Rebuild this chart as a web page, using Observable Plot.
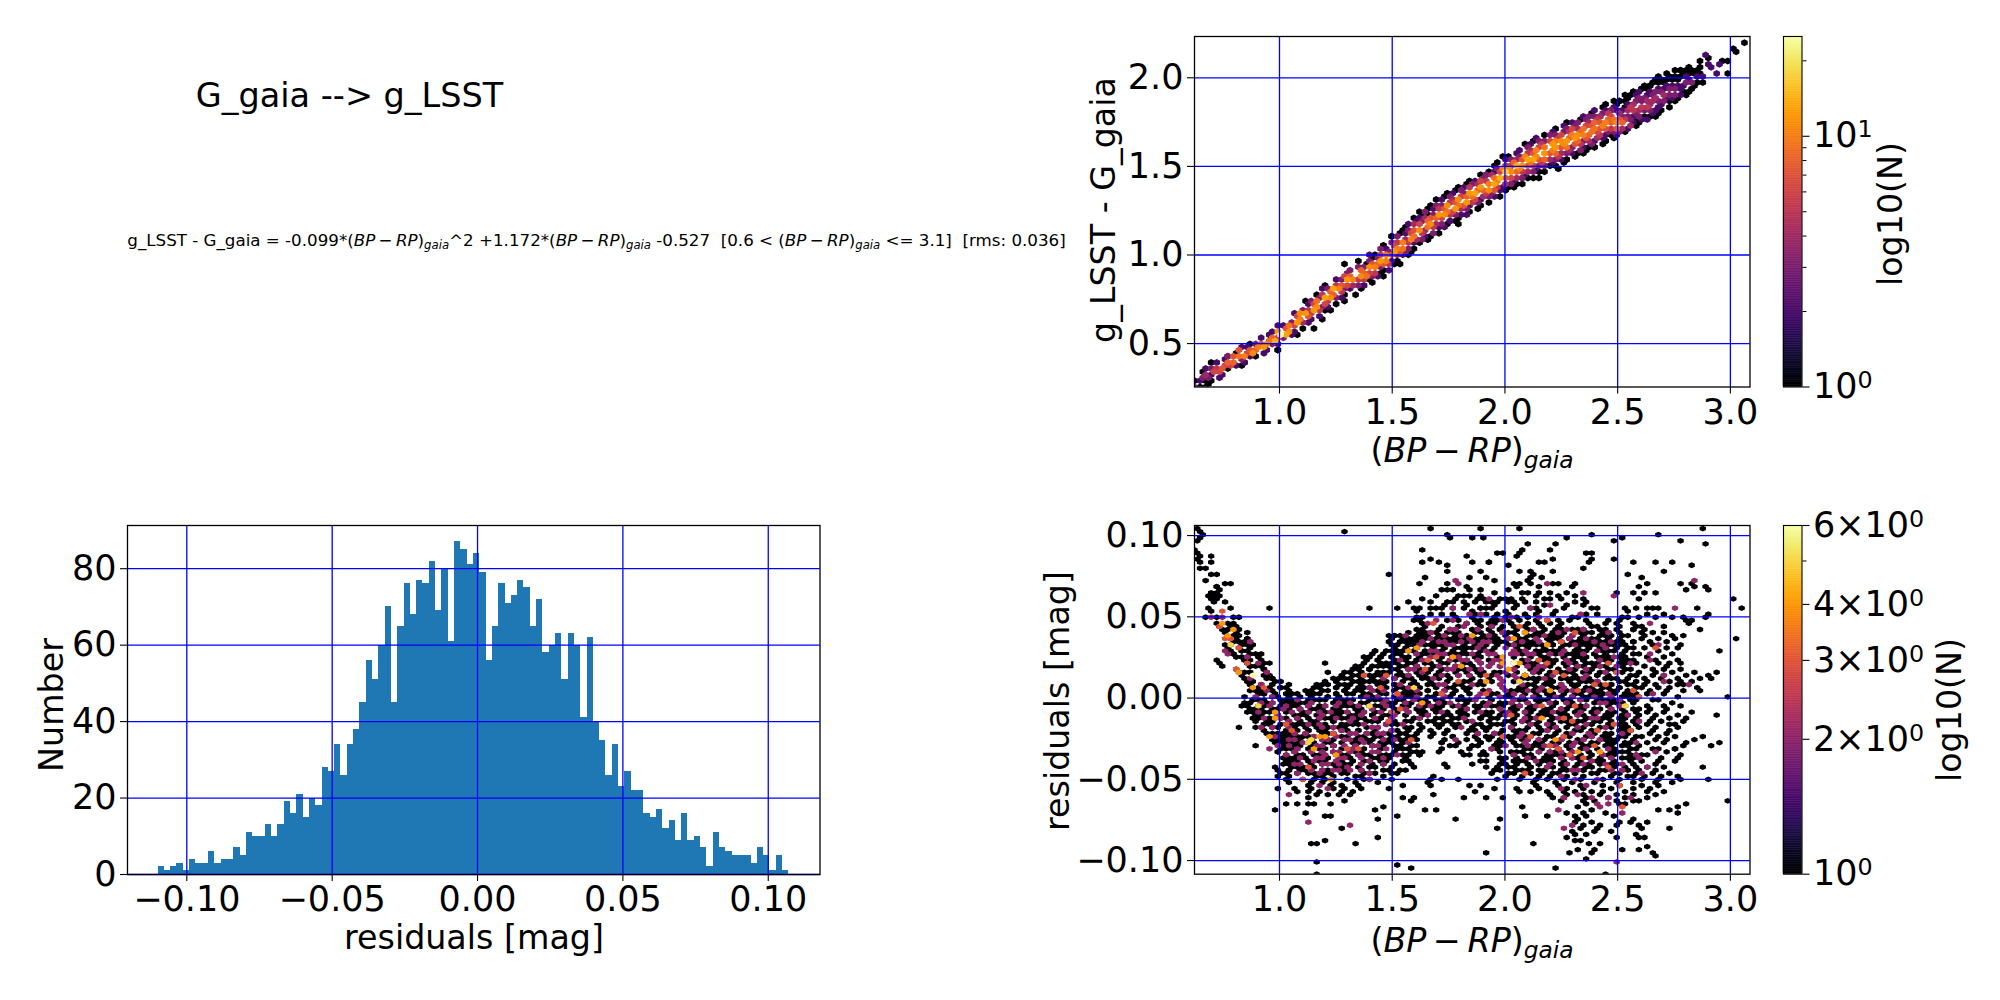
<!DOCTYPE html>
<html><head><meta charset="utf-8">
<script src="https://cdn.jsdelivr.net/npm/d3@7"></script>
<script src="https://cdn.jsdelivr.net/npm/@observablehq/plot@0.6"></script>
<style>
body{margin:0;background:#fff;font-family:"DejaVu Sans",sans-serif;color:#000}
#page{position:relative;width:2000px;height:1000px;overflow:hidden}
.box{position:absolute}
.t{position:absolute;white-space:nowrap;transform:translate(-50%,-50%)}
.m i{font-style:italic}
.m sub{font-size:70%;vertical-align:baseline;position:relative;top:.25em}
</style></head><body><div id="page"></div>
<script>
const titleText = "G_gaia --> g_LSST";
const xTicks = [1.0,1.5,2.0,2.5,3.0];
const topYTicks = [0.5,1.0,1.5,2.0];
const residTicks = [-0.10,-0.05,0,0.05,0.10];
const histYTicks = [0,20,40,60,80];

// histogram counts, 100 bins
const histStart = -0.1099, histBin = 0.00217;
const histCounts = [2,1,2,3,1,4,3,3,6,3,4,4,7,5,11,10,10,13,10,13,19,16,21,15,20,18,28,27,34,26,34,38,45,56,51,60,70,45,65,76,68,77,76,82,69,80,61,87,85,81,84,79,56,65,76,71,73,77,75,65,72,58,60,63,51,63,60,41,62,40,35,26,34,23,27,22,22,16,15,17,12,14,9,16,9,10,7,2,11,7,6,5,5,5,3,7,5,1,5,1];

// upper right: [x, lowest y, counts going up the column]
const topColumns = [
[.63,.26,3,1],[.65,.26,1,2,3,1],[.675,.28,1,3,4,2],[.70,.29,1,2,6,3,1],[.725,.31,2,6,5,2],[.75,.33,2,7,6,2],[.775,.35,1,6,8,3],[.80,.37,2,8,7,1],[.825,.38,1,3,9,7,2],[.85,.40,2,10,6,2],[.875,.42,2,11,7,1],[.90,.43,1,8,10,3],[.925,.45,2,12,7,2],[.95,.47,2,10,9,2],[.975,.49,3,14,8,2],[1.0,.50,2,6,24,12,2],[1.025,.53,3,13,7,2],[1.05,.55,2,11,9,3],[1.075,.57,2,6,12,6,2],[1.10,.59,1,4,10,11,3],[1.125,.62,2,7,12,5,2],[1.15,.64,2,5,12,6,3],[1.175,.66,2,5,11,9,3],[1.20,.68,1,3,6,13,5,2],[1.225,.71,2,5,11,8,3],[1.25,.73,1,3,8,13,5,2],[1.275,.76,2,5,10,7,3],[1.30,.78,1,3,6,12,6,3],[1.325,.81,2,4,10,8,3],
[1.35,.81,1,3,5,11,8,3,1],[1.375,.83,2,5,9,8,3,1],[1.40,.85,1,3,6,11,7,3,2],[1.425,.88,2,5,10,8,3,1],[1.45,.90,1,3,7,12,5,3,1],[1.475,.92,2,5,10,9,3,2],[1.50,.95,1,2,7,12,6,3,1],[1.525,.97,1,3,7,10,5,3,1],[1.55,.995,2,3,9,10,4,2,1],[1.575,1.02,1,3,5,10,6,3,2],[1.60,1.04,1,2,4,9,7,4,2,1],[1.625,1.065,1,3,5,11,6,3,2,1],[1.65,1.085,1,2,4,9,8,4,3,1],[1.675,1.105,1,3,5,11,7,3,2,1],[1.70,1.13,1,2,4,8,12,5,3,1],[1.725,1.155,2,3,6,11,7,3,2,1],[1.75,1.175,1,2,5,9,11,5,3,1],[1.775,1.195,1,3,6,12,7,4,2,1],[1.80,1.21,1,2,4,9,11,6,3,1],[1.825,1.23,2,3,7,12,8,3,2,1],[1.85,1.25,1,2,5,9,12,5,3,1],[1.875,1.27,1,3,6,13,8,4,2],[1.90,1.285,1,2,4,8,12,6,3,1],[1.925,1.30,1,3,5,11,10,5,3,1],[1.95,1.325,2,3,7,13,9,4,2,1],[1.975,1.34,1,2,5,10,14,6,3,1],[2.0,1.36,1,2,4,7,17,10,4,2,1],[2.025,1.385,1,3,6,11,11,5,3,1],[2.05,1.395,1,2,4,8,14,8,4,2],[2.075,1.41,1,3,5,10,12,7,3,2],[2.10,1.43,1,2,4,7,13,10,5,3,1],[2.125,1.445,1,3,5,9,13,7,4,2,1],[2.15,1.46,1,2,3,7,11,10,6,3,2],[2.175,1.475,1,3,5,8,12,9,5,3,1],[2.20,1.495,1,2,4,7,10,12,6,3,2],[2.225,1.51,1,3,5,8,12,10,5,3,1],[2.25,1.525,1,2,4,7,11,11,6,3,2],[2.275,1.54,1,3,4,9,12,8,5,3,1],[2.30,1.555,1,2,3,7,12,10,6,3,2],[2.325,1.57,1,3,5,8,11,8,4,3,1],[2.35,1.585,1,2,3,7,10,9,6,3,2],[2.375,1.60,1,3,4,8,9,7,4,3,1],[2.40,1.615,1,2,4,6,9,8,5,3,2],[2.425,1.63,1,2,5,7,10,7,4,3,1],[2.45,1.645,1,2,3,7,10,8,5,2,1],[2.475,1.665,1,3,5,8,9,6,3,2],[2.50,1.67,2,3,7,11,7,4,2,1,1],[2.525,1.69,1,4,8,5,3,2,1,1],[2.55,1.71,2,4,3,3,4,5,2,1,1],[2.575,1.725,1,2,2,3,5,4,3,2,1],[2.60,1.74,1,2,3,4,5,3,3,2,1],[2.625,1.76,2,1,3,5,4,3,2,1,1],[2.65,1.775,1,2,3,4,4,3,2,1,1],[2.675,1.79,1,2,2,3,4,3,2,1,1],[2.70,1.82,1,2,3,4,3,2,1,1],[2.725,1.835,1,1,2,3,3,2,1,1],[2.75,1.86,1,2,3,3,2,1,1,1],[2.775,1.885,1,2,2,2,1,1,1],[2.80,1.90,1,1,2,3,2,1,1],[2.825,1.945,1,3,2,1,1],[2.85,1.95,1,1,2,1,1],[2.875,1.98,1,2,1,1]];
// upper right: stray cells as [x, y, count]
const topStrays = [[2.90,2.08,2],[2.885,2.13,2],[2.90,2.11,1],[2.945,2.08,2],[2.96,2.10,1],[2.985,2.10,1],[2.934,2.03,2],[2.984,2.03,1],[3.006,2.17,1],[3.02,2.15,1],[3.057,2.2,1],[2.91,2.06,2],[2.145,1.434,1],[2.233,1.488,1],[1.30,.945,1],[.955,.557,1],[.952,.523,1],[.99,.47,1],[1.0,.46,1],[1.527,.945,1],[1.454,.875,1],[1.454,.91,1],[1.115,.73,1],[1.177,.78,1],[1.2,.82,1],[.777,.424,1],[.855,.39,1],[1.46,1.05,1],[1.5,1.11,1],[1.565,1.165,1],[1.79,1.176,1],[1.75,1.19,1],[1.63,1.22,1],[.66,.26,1],[.69,.27,1],[2.07,1.43,1],[2.04,1.386,1],[2.02,1.40,1],[2.18,1.5,1],[2.27,1.54,1],[2.34,1.577,1],[2.39,1.61,1],[2.44,1.642,1],[2.48,1.685,1],[2.575,1.764,1],[2.67,1.80,1],[2.77,1.88,1],[2.81,1.923,1],[2.69,1.854,1],[1.963,1.483,1],[1.91,1.45,1],[1.88,1.42,1],[2.02,1.507,1],[2.27,1.71,1],[2.32,1.723,1],[2.41,1.783,1],[2.465,1.816,1],[2.48,1.87,1],[2.5,1.87,1],[2.53,1.906,1],[2.56,1.923,1],[2.6,1.944,1],[2.634,1.957,1],[2.675,2.013,1],[2.71,2.03,1],[2.774,2.05,1],[2.81,2.064,1],[2.855,2.097,1],[1.082,.56,1],[1.153,.595,1],[1.186,.642,1],[1.223,.693,1],[1.283,.737,1],[1.335,.775,1],[1.365,.822,1],[1.394,.856,1],[1.58,1.0,1],[1.61,1.068,1],[1.655,1.09,1],[1.707,1.153,1],[1.40,.98,1],[1.62,1.22,1],[1.647,1.23,1]];

// lower right: cells with count 1, rows of [y, x, x, ...]
const residOnes = [
[.104,1.67,1.90,2.06,2.87,.63],[.102,1.30,.64],[.100,1.74,2.38,2.68,.65],[.098,.65,1.75,1.85,1.90,2.27,2.52],[.096,.64,2.48,2.78],[.094,2.10,2.22,2.89],[.092,.63,1.64,2.08],[.090,1.97,2.00,2.07,2.20,2.37,2.39,.63],[.088,.69,1.83,2.06,.65],[.086,1.67,2.22,2.39,2.49,.63],[.084,1.86,1.93,2.16],[.083,.655,.705,1.63,1.70,1.92,2.17,2.37,2.56,2.68,2.74],[.081,1.75,2.01,2.82],[.079,.65,.68,1.74,2.34],[.077,.72,1.49,1.89,2.06,2.11,2.13,2.21,2.55,2.70],[.075,.70,1.65,1.85,1.92,2.12,2.16,2.61],[.073,.67,1.96,2.11],[.071,.75,.78,1.63,1.75,2.04,2.07,2.12,2.22,2.24,2.32,2.64,2.79,2.83],[.069,.73,2.06,2.30,2.60,2.85],[.0675,.72,.74,1.72,1.75,1.83,1.85,2.02,2.15,2.81,2.89,2.91],[.066,1.76,1.90,2.20],[.065,.70,.71,1.96,2.07,2.11,2.16,2.28,2.50,2.58,2.63,2.68],[.063,.68,.70,.73,1.70,1.80,1.83,1.85,1.88,2.14,2.24,2.30],[.061,.70,.73,1.64,1.91,1.97,2.00,2.03,2.17,2.24,2.35,2.59,3.01],[.060,1.67,1.78,1.88,2.08,2.20,2.31],[.059,.71,.77,1.56,1.74,1.76,1.81,1.86,1.92,1.94,1.97,2.01,2.04,2.10,2.13,2.37],[.057,1.74,1.84,1.95,2.06,2.18,2.28,2.36],[.056,.68,.78,.96,1.40,1.53,1.63,1.70,1.72,1.81,1.88,1.91,1.94,2.12,2.39,2.59,2.65,2.67,2.86,3.06],[.055,1.59,1.66,1.78,1.90,2.03,2.13,2.25,2.41,2.53,2.62],[.054,.70,1.62,1.85,2.00,2.16,2.22,2.55],[.052,1.66,1.73,1.76,1.87,1.92,1.97,2.02,2.10,2.15,2.21,2.37,2.42,2.64,2.70,2.89],[.050,.68,.73,.79,.81,1.60,1.63,1.77,1.85,1.95,2.0,2.05,2.11,2.30,2.32,2.52,2.55,2.60,2.67,2.75,2.80,2.88],[.048,1.60,1.63,1.74,1.79,1.86,1.90,1.93,1.97,2.02,2.07,2.13,2.18,2.23,2.28,2.37,2.45,2.50,2.81,2.83],[.046,.72,.76,.80,1.64,1.84,1.88,1.92,1.96,2.03,2.10,2.14,2.20,2.26,2.38,2.44,2.50,2.58,2.82],[.044,.73,.78,.81,1.65,1.72,1.80,1.90,1.93,2.00,2.05,2.08,2.17,2.23,2.38,2.41,2.52,2.57,2.60,2.70],[.042,.75,.83,1.60,1.70,1.76,1.85,1.89,1.94,1.99,2.06,2.12,2.18,2.23,2.30,2.35,2.42,2.50,2.58,2.63,2.86],[.040,.76,.80,.85,1.61,1.65,1.69,1.75,1.80,1.87,1.93,1.98,2.03,2.09,2.14,2.21,2.27,2.33,2.39,2.44,2.50,2.60,2.66,2.71],
[.038,.79,.83,1.48,1.51,1.54,1.63,1.66,1.70,1.74,1.78,1.84,1.90,1.96,2.00,2.06,2.11,2.16,2.20,2.26,2.31,2.36,2.42,2.48,2.55,2.63,2.74,2.78],[.036,.78,.86,1.56,1.60,1.66,1.72,1.77,1.83,1.88,1.93,2.03,2.07,2.13,2.22,2.28,2.34,2.40,2.46,2.60,2.68,2.76,3.03],[.034,.81,.87,1.48,1.54,1.63,1.68,1.72,1.79,1.84,1.98,2.04,2.10,2.19,2.24,2.30,2.37,2.44,2.52,2.58,2.65,2.72],[.032,.76,.84,.88,1.53,1.58,1.65,1.70,1.76,1.87,1.92,2.02,2.08,2.14,2.21,2.27,2.34,2.39,2.46,2.50,2.57,2.66,2.77],[.030,.77,.83,.86,1.42,1.50,1.55,1.60,1.67,1.73,1.80,1.86,1.96,2.16,2.24,2.31,2.37,2.42,2.55,2.62,2.72,2.76,2.95],[.028,.79,.90,1.42,1.51,1.57,1.63,1.69,1.78,1.83,1.94,2.12,2.19,2.28,2.34,2.40,2.46,2.52,2.60,2.68,2.74],[.026,.81,.85,.92,1.38,1.45,1.49,1.55,1.62,1.72,1.77,1.89,2.10,2.17,2.26,2.31,2.37,2.43,2.50,2.64,2.70],[.024,.72,.84,.92,1.39,1.43,1.52,1.60,1.66,1.76,1.84,1.92,2.07,2.14,2.21,2.29,2.35,2.42,2.48,2.55,2.66,2.76],[.022,.74,.86,.96,1.20,1.47,1.53,1.58,1.68,1.74,1.82,1.95,2.12,2.25,2.32,2.38,2.46,2.53,2.59,2.68,2.74,2.79],[.020,.75,.87,.91,1.34,1.41,1.47,1.56,1.62,1.70,1.80,1.86,1.98,2.10,2.18,2.27,2.33,2.40,2.45,2.52,2.62,2.72],[.018,.81,.92,1.35,1.40,1.50,1.58,1.66,1.75,1.82,1.90,2.04,2.15,2.23,2.30,2.37,2.48,2.56,2.65,2.70,2.78],[.016,.83,.88,1.22,1.31,1.37,1.44,1.53,1.60,1.70,1.78,1.88,1.96,2.13,2.20,2.28,2.35,2.42,2.50,2.60,2.68,2.75,2.83,2.93],[.014,.84,.92,.96,1.28,1.34,1.38,1.47,1.55,1.64,1.72,1.84,1.94,2.10,2.19,2.25,2.32,2.40,2.47,2.56,2.66,2.71,2.80,2.90],[.012,.84,.98,1.24,1.30,1.36,1.42,1.50,1.59,1.67,1.76,1.86,1.92,2.08,2.16,2.24,2.31,2.38,2.44,2.54,2.63,2.70,2.77,2.86,2.92],[.010,.85,.99,1.01,1.20,1.33,1.38,1.46,1.54,1.60,1.68,1.74,1.82,1.90,2.14,2.22,2.28,2.34,2.42,2.50,2.58,2.64,2.72,2.78,2.84],[.008,.86,.92,1.03,1.16,1.22,1.29,1.36,1.43,1.50,1.58,1.66,1.72,1.80,1.88,2.10,2.18,2.26,2.33,2.40,2.47,2.55,2.62,2.68,2.76,2.80],[.006,.88,.96,1.01,1.04,1.18,1.26,1.31,1.38,1.45,1.53,1.62,1.69,1.78,1.85,2.07,2.14,2.21,2.30,2.37,2.45,2.52,2.60,2.67,2.74,2.85],[.004,.89,.97,1.05,1.13,1.20,1.28,1.34,1.42,1.50,1.56,1.65,1.74,1.82,1.94,2.06,2.12,2.20,2.28,2.35,2.43,2.50,2.57,2.65,2.72,2.79,2.87],[.002,.90,.94,.98,1.06,1.12,1.16,1.25,1.31,1.40,1.46,1.54,1.60,1.70,1.78,1.88,1.97,2.04,2.10,2.18,2.26,2.33,2.41,2.48,2.56,2.62,2.70],[0,.88,.99,1.03,1.10,1.18,1.22,1.30,1.38,1.44,1.52,1.58,1.66,1.76,1.84,1.92,2.00,2.08,2.16,2.24,2.30,2.38,2.46,2.54,2.60,2.68,2.76,2.99],
[-.002,.84,.91,1.02,1.07,1.15,1.20,1.28,1.36,1.42,1.49,1.56,1.64,1.72,1.82,1.90,1.98,2.06,2.14,2.22,2.28,2.36,2.44,2.52,2.58,2.66,2.74],[-.004,.85,.90,.97,1.05,1.12,1.18,1.26,1.33,1.40,1.48,1.54,1.62,1.70,1.80,1.86,1.96,2.04,2.12,2.20,2.27,2.34,2.42,2.50,2.57,2.63,2.71,2.78],[-.006,.86,.92,.99,1.04,1.10,1.16,1.23,1.30,1.37,1.45,1.52,1.60,1.68,1.77,1.84,1.94,2.02,2.10,2.18,2.25,2.32,2.40,2.48,2.56,2.64,2.72],[-.008,.88,.95,1.06,1.14,1.21,1.28,1.35,1.43,1.50,1.57,1.65,1.74,1.82,1.92,2.00,2.08,2.16,2.23,2.30,2.38,2.46,2.54,2.62,2.70,2.84],[-.010,.89,1.0,1.08,1.16,1.24,1.32,1.40,1.47,1.55,1.63,1.72,1.80,1.90,1.98,2.06,2.14,2.21,2.28,2.36,2.44,2.52,2.60,2.68,2.76,2.94],[-.012,.90,.97,1.03,1.09,1.17,1.22,1.30,1.37,1.44,1.50,1.60,1.70,1.78,1.88,1.95,2.03,2.12,2.20,2.27,2.35,2.43,2.50,2.58,2.66,2.73,2.80],[-.014,.90,.98,1.04,1.10,1.15,1.25,1.33,1.42,1.52,1.58,1.68,1.76,1.84,1.92,2.00,2.08,2.16,2.24,2.33,2.40,2.48,2.56,2.64,2.70,2.78],[-.016,.92,1.0,1.08,1.13,1.20,1.27,1.36,1.47,1.53,1.63,1.72,1.80,1.90,1.98,2.05,2.14,2.22,2.30,2.38,2.46,2.54,2.62,2.72,2.76],[-.018,.83,.93,.98,1.06,1.16,1.22,1.30,1.38,1.44,1.56,1.64,1.70,1.78,1.86,1.94,2.02,2.10,2.19,2.27,2.36,2.44,2.52,2.60,2.68,2.76],[-.020,.93,1.02,1.08,1.14,1.20,1.28,1.35,1.42,1.50,1.58,1.66,1.74,1.84,1.91,2.00,2.08,2.16,2.24,2.34,2.42,2.50,2.56,2.66,2.74],[-.022,.94,.99,1.05,1.11,1.18,1.24,1.32,1.40,1.46,1.54,1.62,1.72,1.82,1.89,1.97,2.06,2.14,2.22,2.31,2.40,2.48,2.55,2.64,2.72],[-.024,1.0,1.05,1.10,1.16,1.27,1.34,1.42,1.52,1.58,1.68,1.78,1.86,1.95,2.04,2.12,2.20,2.29,2.38,2.46,2.53,2.61,2.68,2.76,2.87],[-.026,1.0,1.03,1.08,1.15,1.22,1.30,1.38,1.46,1.53,1.60,1.74,1.84,1.93,2.02,2.10,2.18,2.26,2.36,2.44,2.50,2.58,2.66,2.72,2.84],[-.028,.97,1.01,1.06,1.12,1.20,1.28,1.36,1.44,1.50,1.55,1.72,1.80,1.90,2.00,2.09,2.16,2.24,2.34,2.42,2.49,2.56,2.63,2.70,2.80,2.94],[-.030,.89,1.02,1.07,1.14,1.24,1.33,1.41,1.50,1.54,1.60,1.76,1.78,1.88,1.98,2.07,2.14,2.22,2.30,2.38,2.47,2.54,2.60,2.68,2.78,2.92],[-.032,.99,1.03,1.08,1.17,1.27,1.36,1.44,1.52,1.57,1.71,1.85,1.94,2.05,2.12,2.20,2.28,2.36,2.45,2.52,2.58,2.65,2.75,2.76],[-.034,1.03,1.10,1.20,1.30,1.40,1.47,1.58,1.64,1.84,1.90,2.03,2.11,2.19,2.26,2.34,2.43,2.50,2.56,2.63,2.72,2.78],[-.036,1.02,1.06,1.15,1.25,1.35,1.43,1.50,1.57,1.62,1.82,1.92,2.01,2.09,2.18,2.24,2.37,2.46,2.54,2.61,2.70,2.77],[-.038,1.03,1.08,1.17,1.28,1.37,1.45,1.55,1.58,1.91,2.0,2.07,2.16,2.22,2.30,2.41,2.49,2.60,2.68,2.75],[-.040,1.04,1.09,1.20,1.24,1.31,1.40,1.50,1.59,1.72,1.85,1.99,2.06,2.14,2.20,2.28,2.38,2.47,2.58,2.66],[-.042,.98,1.05,1.10,1.16,1.27,1.34,1.43,1.60,1.75,1.97,2.03,2.12,2.18,2.27,2.36,2.45,2.53,2.62,2.71,2.87],[-.044,.99,1.03,1.12,1.21,1.28,1.37,1.48,1.57,1.96,2.04,2.09,2.14,2.24,2.34,2.42,2.52,2.60,2.68],[-.046,1.0,1.07,1.15,1.23,1.30,1.41,1.50,1.52,1.95,2.01,2.11,2.22,2.31,2.38,2.48,2.58,2.66,2.72],[-.048,1.0,1.04,1.16,1.19,1.25,1.33,1.36,1.47,1.69,2.0,2.08,2.14,2.20,2.28,2.35,2.46,2.55,2.62,2.70,2.76],[-.050,1.02,1.10,1.15,1.20,1.30,1.37,1.40,1.50,1.66,1.73,1.80,1.97,2.06,2.13,2.18,2.26,2.33,2.43,2.52,2.60,2.68,2.77,2.90],[-.052,1.03,1.13,1.18,1.24,1.33,1.43,1.665,2.12,2.22,2.30,2.40,2.50,2.58,2.66,2.74],[-.054,1.14,1.22,1.28,1.34,1.55,1.66,1.85,1.90,2.14,2.24,2.34,2.44,2.52,2.60,2.69],[-.056,1.0,1.055,1.15,1.25,1.30,1.36,1.48,1.95,2.05,2.16,2.27,2.36,2.46,2.56,2.64],[-.058,1.09,1.14,1.18,1.27,1.32,1.87,2.06,2.12,2.18,2.25,2.31,2.38,2.44,2.53,2.62,2.70],[-.060,1.16,1.21,1.26,1.31,1.69,2.20,2.27,2.35,2.41,2.50,2.58,2.66],[-.061,1.13,1.55,1.60,1.826,1.92,1.996,2.22,2.26,2.36,2.45,2.53,2.62],[-.063,1.29,1.59,2.996,2.24,2.34,2.40,2.50,2.57,2.60],[-.065,1.03,1.08,1.14,1.15,1.23,2.81,2.36,2.50,2.53],[-.067,1.46,2.08,2.774,2.33],[-.0685,.98,1.43,1.65,1.70,2.686,2.737,2.38],[-.0705,1.116,2.774,2.36,2.27,2.45],[-.0726,1.204,1.228,1.528,2.096,2.18,2.36,2.487,2.30],[-.074,1.44,1.79,1.985,2.32,2.575],[-.076,2.516,2.55,2.64,2.32,2.39],[-.078,2.34,2.605,2.41,2.50],[-.080,1.278,1.97,2.737,2.33,2.605,2.41],[-.082,2.31,2.405,2.48],[-.084,2.32,2.366,2.59],[-.0857,1.44,2.28,2.50,2.59,2.625],[-.0875,1.204,2.31,2.33],[-.0894,1.14,1.167,1.34,2.13,2.38,2.43],[-.091,2.64],[-.093,2.327,2.405,2.516,2.6],[-.095,1.92,2.29,2.39,2.664],[-.097,2.675],[-.0987,2.366],[-.1008,1.167],[-.1027,1.528],[-.1045,1.588,2.23],[-.108,1.167,2.45],
// in-between rows of the dense part
[.043,.77,1.63,1.78,1.88,1.97,2.11,2.25,2.33,2.44],[.041,.80,1.57,1.67,1.77,1.90,2.02,2.16,2.25,2.36,2.46,2.57],[.039,1.52,1.62,1.71,1.83,1.94,2.04,2.12,2.23,2.34,2.44,2.53],[.037,.80,.85,1.50,1.55,1.61,1.65,1.69,1.74,1.79,1.86,1.91,1.97,2.02,2.09,2.15,2.18,2.24,2.29,2.33,2.39,2.45,2.51],[.035,.80,.84,1.55,1.59,1.62,1.70,1.75,1.82,1.87,1.95,2.01,2.05,2.12,2.15,2.20,2.26,2.32,2.36,2.43,2.50,2.56],[.033,.79,.85,1.50,1.56,1.60,1.66,1.73,1.78,1.82,1.90,1.96,2.06,2.11,2.16,2.22,2.29,2.35,2.41,2.48,2.54],[.031,.82,.86,1.51,1.56,1.62,1.68,1.74,1.79,1.84,1.90,2.04,2.10,2.18,2.25,2.33,2.38,2.44,2.49],[.029,.78,.84,1.47,1.53,1.59,1.64,1.71,1.76,1.81,1.88,2.06,2.14,2.20,2.26,2.30,2.36,2.43,2.48,2.54],[.027,.80,.87,1.40,1.47,1.53,1.60,1.66,1.75,1.80,1.87,1.92,2.08,2.15,2.22,2.29,2.33,2.39,2.45,2.57],[.025,.83,.90,1.41,1.46,1.50,1.57,1.63,1.70,1.79,1.86,1.97,2.05,2.12,2.19,2.27,2.33,2.40,2.46,2.53],[.023,.84,.88,1.44,1.50,1.56,1.62,1.71,1.78,1.88,1.99,2.10,2.17,2.23,2.30,2.36,2.44,2.51,2.57],[.021,.86,.94,1.38,1.45,1.51,1.60,1.65,1.72,1.84,1.90,2.08,2.14,2.20,2.30,2.35,2.42,2.50,2.55],[.019,.88,.90,1.37,1.43,1.48,1.54,1.61,1.68,1.77,1.85,1.93,2.06,2.13,2.21,2.28,2.34,2.43,2.51],[.017,.87,.93,1.33,1.39,1.46,1.52,1.63,1.71,1.80,1.86,1.98,2.11,2.17,2.25,2.32,2.39,2.46,2.53],[.015,.85,.95,1.29,1.36,1.42,1.49,1.57,1.66,1.74,1.83,1.91,2.05,2.15,2.23,2.30,2.37,2.44,2.52,2.58],[.013,.87,.97,1.27,1.33,1.40,1.45,1.52,1.62,1.70,1.79,1.89,2.02,2.12,2.20,2.27,2.35,2.41,2.49,2.58],[.011,.89,.94,1.25,1.31,1.35,1.43,1.48,1.56,1.63,1.71,1.84,1.94,2.10,2.18,2.25,2.32,2.39,2.47,2.53],[.009,.87,.96,1.19,1.26,1.32,1.40,1.47,1.51,1.61,1.69,1.77,1.90,2.04,2.12,2.20,2.29,2.36,2.43,2.48,2.56],[.007,.91,1.0,1.15,1.24,1.34,1.41,1.48,1.55,1.63,1.75,1.83,1.98,2.09,2.16,2.24,2.31,2.38,2.44,2.51,2.58],[.005,.87,.93,1.11,1.22,1.30,1.36,1.44,1.52,1.59,1.67,1.79,1.90,2.02,2.08,2.18,2.26,2.33,2.40,2.47,2.55],[.003,.92,1.02,1.09,1.18,1.26,1.33,1.38,1.47,1.58,1.63,1.72,1.85,1.95,2.01,2.13,2.22,2.30,2.38,2.44,2.53,2.59],[.001,.85,.96,1.04,1.14,1.21,1.27,1.35,1.42,1.50,1.56,1.68,1.74,1.81,1.94,2.02,2.07,2.14,2.20,2.29,2.35,2.43,2.52,2.58],[-.001,.87,.94,1.0,1.05,1.12,1.17,1.24,1.33,1.40,1.46,1.54,1.61,1.69,1.79,1.86,1.95,2.03,2.10,2.19,2.26,2.34,2.42,2.49,2.55],[-.003,.88,.95,1.03,1.08,1.15,1.23,1.30,1.38,1.45,1.51,1.59,1.67,1.74,1.83,1.93,2.01,2.09,2.15,2.23,2.30,2.39,2.46,2.53],[-.005,.83,.94,1.01,1.07,1.14,1.20,1.28,1.35,1.42,1.50,1.58,1.65,1.72,1.82,1.90,1.99,2.07,2.14,2.21,2.29,2.36,2.45,2.54],[-.007,.90,.97,1.02,1.08,1.13,1.19,1.26,1.33,1.41,1.47,1.55,1.63,1.71,1.80,1.87,1.97,2.05,2.12,2.20,2.27,2.35,2.43,2.51,2.59],[-.009,.86,.92,.98,1.04,1.10,1.18,1.24,1.31,1.38,1.45,1.53,1.61,1.69,1.79,1.86,1.95,2.03,2.11,2.19,2.26,2.33,2.41,2.49,2.57],[-.011,.92,.99,1.06,1.12,1.19,1.27,1.34,1.42,1.48,1.56,1.66,1.75,1.83,1.93,2.01,2.09,2.17,2.25,2.32,2.39,2.47,2.55],[-.013,.87,.95,1.01,1.07,1.14,1.20,1.28,1.36,1.45,1.50,1.62,1.72,1.80,1.90,1.97,2.05,2.13,2.21,2.29,2.37,2.45,2.53],[-.015,.95,1.03,1.09,1.17,1.23,1.30,1.39,1.44,1.55,1.65,1.74,1.83,1.94,2.02,2.10,2.19,2.27,2.35,2.43,2.51,2.59],[-.017,.89,.96,1.05,1.10,1.16,1.24,1.33,1.41,1.50,1.58,1.69,1.77,1.86,1.96,2.03,2.12,2.20,2.28,2.36,2.42,2.50,2.58],[-.019,.99,1.04,1.12,1.18,1.26,1.35,1.42,1.52,1.62,1.75,1.91,1.99,2.07,2.15,2.23,2.31,2.39,2.47,2.54],[-.021,.96,1.01,1.07,1.13,1.22,1.30,1.38,1.48,1.56,1.69,1.87,1.95,2.04,2.12,2.19,2.27,2.37,2.45,2.53],[-.023,1.03,1.08,1.13,1.20,1.29,1.37,1.44,1.50,1.60,1.76,1.92,2.02,2.10,2.18,2.26,2.36,2.44,2.51,2.59],[-.025,.98,1.01,1.07,1.13,1.19,1.25,1.34,1.41,1.49,1.56,1.88,1.98,2.07,2.15,2.24,2.33,2.41,2.48,2.56],[-.027,1.03,1.09,1.16,1.23,1.32,1.40,1.47,1.54,1.71,1.89,1.97,2.05,2.13,2.21,2.29,2.39,2.47,2.53],[-.029,1.05,1.10,1.17,1.25,1.34,1.42,1.47,1.58,1.86,1.95,2.04,2.12,2.19,2.27,2.36,2.44,2.52],[-.031,1.01,1.05,1.12,1.21,1.30,1.38,1.46,1.55,1.73,1.96,2.08,2.16,2.24,2.33,2.41,2.48,2.56],[-.033,1.0,1.06,1.14,1.24,1.34,1.43,1.52,1.60,1.81,1.97,2.07,2.15,2.22,2.31,2.38,2.47,2.55],[-.035,1.08,1.17,1.28,1.38,1.46,1.54,1.63,1.90,2.03,2.12,2.20,2.28,2.39,2.48,2.57],[-.037,1.04,1.12,1.22,1.32,1.41,1.48,1.56,1.99,2.05,2.13,2.21,2.33,2.43,2.51,2.58],[-.039,1.05,1.13,1.21,1.32,1.39,1.47,1.88,2.03,2.09,2.18,2.26,2.34,2.44,2.55],[-.041,1.02,1.07,1.14,1.29,1.37,1.46,2.01,2.10,2.16,2.24,2.32,2.41,2.50],[-.043,1.07,1.14,1.24,1.31,1.40,1.51,1.92,2.01,2.11,2.22,2.30,2.39,2.49,2.58],[-.045,1.04,1.10,1.18,1.26,1.35,1.45,1.54,1.98,2.07,2.17,2.27,2.36,2.44,2.55],[-.047,1.02,1.13,1.21,1.28,1.38,1.43,2.04,2.16,2.24,2.32,2.41,2.50,2.57]];

// lower right: cells with count 2, rows of [y, x, x, ...]
const residTwos = [
[.073,1.79,2.848],[.071,2.19],[.070,1.79],[.064,2.342],[.062,1.934,2.48],[.058,2.206],[.056,2.118],[.055,1.763,2.75],[.0525,1.897,2.34],[.0507,2.03,1.84],[.049,.702,.755,1.99,2.15],[.047,1.70,1.77,1.83],[.045,.732,2.64,1.66,1.94],[.043,2.28,2.35,1.75,1.82,2.12],[.041,2.46,2.235,1.68,1.78,1.88,2.0],[.039,1.72,1.80,1.92,2.17],[.038,2.295,1.56],[.0354,2.405,2.47,2.07,1.74,1.64],[.035,.859,1.85,1.90],[.034,1.94,1.71,1.81,2.16],[.032,2.675,1.62,1.77,2.0],[.030,.762,2.44,1.88,1.69,1.57],[.0277,2.044,2.25,1.74,1.85,2.11],[.028,2.65],[.0266,1.926,.77,1.61],[.026,.856,2.48,2.2,1.67,1.79],[.024,2.65,1.75,1.81,1.98],[.0225,2.56,1.875,1.94,1.54,1.63],[.021,.90,1.88,2.03,2.28],[.02,2.5,1.71,1.92,2.15],[.018,1.58,1.76,1.84,2.05,2.36],[.016,.94,2.0,2.44],[.015,2.044,2.09,2.13,1.63,1.72],[.0133,2.70,1.56,1.80,2.21],[.012,.88,1.46,1.97,2.36],[.011,2.71,1.68,2.06],[.009,1.97,2.825,.92,1.74,1.86],[.007,2.26,2.0,2.17,1.56,1.40],[.005,.95,1.47,1.94,2.10,2.31],[.003,1.52,1.71,1.90,2.03,2.46,2.66],[.001,.90,.98,1.44,1.62,1.99,2.12,2.22,2.40],[-.001,1.08,1.47,1.60,1.86,2.05,2.33,2.50],[-.003,.93,1.32,1.55,1.76,1.93,2.11,2.27,2.44],[-.005,.96,1.20,1.25,1.47,1.68,1.91,2.07,2.37,2.52],[-.007,1.02,1.10,1.40,1.56,1.83,1.98,2.24,2.46],[-.009,.90,1.14,1.29,1.45,1.73,1.88,2.10,2.21,2.42],[-.011,1.00,1.20,1.35,1.52,1.66,2.0,2.32,2.55],[-.013,.93,1.09,1.26,1.43,1.61,2.14,2.24,2.42],[-.015,1.05,1.31,1.48,1.85,2.07,2.36,2.60],[-.017,.92,1.12,1.37,1.54,2.18,2.45],[-.019,.97,1.19,1.28,1.44,1.81,2.03,2.22],[-.021,1.06,1.34,1.50,1.96,2.29,2.52],[-.023,.99,1.15,1.26,1.46,1.88,2.06,2.38],[-.025,1.03,1.22,1.32,1.52,1.78,2.16,2.43],[-.027,1.11,1.38,1.56,2.10,2.32,2.58],[-.029,1.00,1.20,1.28,1.44,2.0,2.22],[-.031,.95,1.08,1.33,1.48,1.93,2.36,2.46],[-.033,1.13,1.26,1.40,2.14,2.30,2.66],[-.035,1.04,1.19,1.36,1.52,2.04,2.44,2.57],[-.037,1.10,1.30,1.45,2.24,2.60],[-.039,1.16,1.24,1.41,2.13,2.38],[-.041,1.06,1.21,1.35,2.27,2.52],[-.043,1.14,1.29,2.18,2.64],[-.045,1.23,1.32,2.33,2.46],[-.047,1.08,1.18,1.40,2.25,2.60],[-.050,1.39,2.30,2.40],[-.053,1.18,2.36],[-.055,1.22,2.25],[-.059,1.05,2.327],[-.061,2.265,2.376,2.465,2.563],[-.065,2.42,2.465],[-.067,2.43],[-.069,2.243],[-.0705,2.53],[-.0763,1.126],[-.078,1.315,2.29],[-.080,2.265],[-.1008,2.5],
[.037,1.84,2.01,2.14,2.37,1.68,2.28],[.033,1.88,2.05,2.18,2.30,1.75,2.44],[.029,1.92,2.03,2.10,2.42,1.66,2.26],[.027,1.95,2.12,2.20,2.36,1.71,2.03],[.023,1.83,1.96,2.09,2.27,1.65,2.41],[.019,1.78,1.98,2.09,2.18,2.41,1.61,2.32],[.017,1.59,2.03,2.14,2.29,1.74,1.90],[.013,1.51,1.97,2.05,2.17,1.84,2.36],[.009,1.53,1.99,2.08,2.24,1.70,2.41],[.005,1.41,1.62,2.01,2.14,2.38,1.74,2.24],[.001,1.38,1.53,1.88,2.08,2.30,1.72,2.46],[-.003,.98,1.15,1.46,1.70,2.02,2.19,2.41,1.27],[-.005,1.02,1.13,1.34,1.62,2.14,2.31,1.80],[-.009,1.06,1.18,1.37,1.58,2.02,2.34,1.22],[-.013,1.00,1.17,1.33,1.49,2.09,2.39,1.82],[-.017,1.04,1.24,1.41,1.47,2.11,2.32,1.18],[-.021,1.11,1.24,1.38,1.43,2.08,2.37,1.31,2.19],[-.025,1.06,1.18,1.29,1.36,2.11,2.34,1.45,2.26],[-.029,1.03,1.16,1.24,1.40,2.09,2.31,1.34,2.17],[-.033,1.07,1.19,1.31,1.44,2.26,2.41,1.24,2.20],[-.037,1.16,1.27,1.36,2.09,2.47,1.20,2.31],[-.041,1.10,1.26,1.45,2.20,2.44,1.18,2.36],[-.045,1.14,1.27,1.37,2.29,2.51,1.19]];

// lower right: cells with higher counts, [x, y]
const residThrees = [[.735,.054],[.728,.044],[.78,.037],[.76,.037],[.79,.037],[.82,.032],[.80,.018],[.845,.022],[.92,.006],[1.03,-.015],[1.05,-.019],[1.245,-.022],[1.12,-.043],[1.10,-.05],[1.48,-.015],[1.49,-.008],[1.35,-.03],[1.30,-.03],[1.59,-.025],[1.54,-.006],[2.17,-.0045],[2.32,-.0045],[2.03,-.01],[2.265,-.0116],[2.29,-.015],[2.41,-.0194],[2.49,-.016],[2.56,-.0194],[2.0,-.023],[2.12,-.023],[2.265,-.023],[2.2,-.0286],[2.24,-.0307],[2.29,-.034],[2.39,-.03],[2.35,-.036],[2.465,-.042],[2.096,-.046],[2.516,-.053],[2.53,-.067],[2.07,.045],[2.19,.0487],[2.317,.041],[2.24,.034],[2.664,.03],[2.155,.024],[2.19,.0225],[1.92,.0147],[2.265,.015],[2.22,.015],[2.49,.015],[2.40,.009],[2.45,.009],[2.465,.0223],[2.317,.004],[2.575,.005],[2.6,.001],[1.92,.003],[1.677,.045],[1.70,.026],[1.67,.024],[1.65,.018],[1.476,.015],[1.375,.015],[1.528,.0035],[1.45,.007],[1.80,.011],[1.72,.0035]];
const residFours = [[.755,.046],[.795,.041],[.76,.039],[.81,.016],[.875,.006],[.978,-.008],[.97,-.012],[.95,-.023],[1.20,-.023],[1.18,-.023],[1.15,-.031],[1.25,-.034],[1.23,-.05],[1.63,-.002],[2.17,-.0116],[2.23,-.025],[2.317,-.034],[2.425,-.033],[2.09,.041],[2.044,.037],[2.19,.033],[1.85,.039],[1.98,.022],[2.06,.022],[2.0,.0255],[2.02,.018],[2.10,.0145],[1.92,.0106],[2.19,.004],[1.573,.03],[1.615,.03],[1.774,.026],[1.81,.02]];
const residFives = [[.9,-.004],[1.12,-.028],[1.41,-.005],[2.54,-.0045],[2.066,.0106],[1.6025,.007],[.792,.033],[1.14,-.025]];
const residSixes = [[.881,.015],[2.044,.022]];

// a hexagonal bin holds each count: its centre on the two offset lattices of the panel
function binned(cells, xd, yd){
  const sx=(xd[1]-xd[0])/100, sy=(yd[1]-yd[0])/57;
  return cells.map(({x,y,n})=>{
    const ax=Math.round((x-xd[0])/sx), ay=Math.round((y-yd[0])/sy);
    const bx=Math.round((x-xd[0])/sx-.5)+.5, by=Math.round((y-yd[0])/sy-.5)+.5;
    const da=((x-xd[0])/sx-ax)**2+3*((y-yd[0])/sy-ay)**2, db=((x-xd[0])/sx-bx)**2+3*((y-yd[0])/sy-by)**2;
    const [i,j]=da<db?[ax,ay]:[bx,by];
    return {x:xd[0]+i*sx,y:yd[0]+j*sy,n};
  }).sort((a,b)=>a.n-b.n);
}
const xDomain=[.623,3.087], topYDomain=[.255,2.233], resYDomain=[-.1084,.1062];
const topCells = binned([
  ...topColumns.flatMap(([x,y0,...ns]) => ns.map((n,k) => ({x, y:y0+k*0.025, n}))),
  ...topStrays.map(([x,y,n]) => ({x,y,n}))
],xDomain,topYDomain);
const residCells = binned([
  ...residOnes.flatMap(([y,...xs]) => xs.map(x => ({x,y,n:1}))),
  ...residTwos.flatMap(([y,...xs]) => xs.map(x => ({x,y,n:2}))),
  ...residThrees.map(([x,y]) => ({x,y,n:3})),
  ...residFours.map(([x,y]) => ({x,y,n:4})),
  ...residFives.map(([x,y]) => ({x,y,n:5})),
  ...residSixes.map(([x,y]) => ({x,y,n:6}))
],xDomain,resYDomain);
const histBars = histCounts.map((c,i) => ({x1:histStart+i*histBin, x2:histStart+(i+1)*histBin, c}));

const page = document.getElementById("page");
const TICK = 35, LABEL = 33.3, M = {l:140,r:10,t:12,b:64};
const hex=(w,h)=>({draw(c){const q=h/2;c.moveTo(0,-h);c.lineTo(w,-q);c.lineTo(w,q);c.lineTo(0,h);c.lineTo(-w,q);c.lineTo(-w,-q);c.closePath();}});
const resHex=hex(3.2,2.9), topHex=hex(3.3,3.5);

function place(el,left,top){const d=document.createElement("div");d.className="box";d.style.left=left+"px";d.style.top=top+"px";d.append(el);page.append(d);}
function text(html,cx,cy,size,rot,cls){const d=document.createElement("div");d.className="t "+(cls||"");d.innerHTML=html;d.style.left=cx+"px";d.style.top=cy+"px";d.style.fontSize=size+"px";if(rot)d.style.transform=`translate(-50%,-50%) rotate(${rot}deg)`;page.append(d);}

function panel(f,opt,marks){
  const fig = Plot.plot({
    width:f.w+M.l+M.r,height:f.h+M.t+M.b,
    marginLeft:M.l,marginRight:M.r,marginTop:M.t,marginBottom:M.b,
    x:{domain:opt.xd},y:{domain:opt.yd},color:opt.color,
    style:{fontFamily:"DejaVu Sans",color:"#000",background:"transparent",overflow:"visible"},
    marks:[
      ...marks,
      Plot.ruleX(opt.xt,{stroke:"#0000ff",strokeWidth:1.3}),
      Plot.ruleY(opt.yt,{stroke:"#0000ff",strokeWidth:1.3}),
      Plot.frame({stroke:"#000",strokeWidth:1.3}),
      Plot.axisX({ticks:opt.xt,tickFormat:opt.xf,tickSize:7,tickPadding:5,fontSize:TICK,label:null,strokeWidth:1.1}),
      Plot.axisY({ticks:opt.yt,tickFormat:opt.yf,tickSize:7,tickPadding:4,fontSize:TICK,label:null,strokeWidth:1.1})
    ]});
  place(fig,f.x-M.l,f.y-M.t);
}
function colorbar(f,domain,major,minor,fmt,scale){
  const levels=d3.range(0,200).map(i=>domain[0]*Math.pow(domain[1]/domain[0],i/200));
  const strip=levels.map((v,i)=>({v,next:i<199?levels[i+1]:domain[1]}));
  const fig=Plot.plot({
    width:f.w+190,height:f.h+M.t+30,marginLeft:0,marginRight:190,marginTop:M.t,marginBottom:30,
    x:{domain:[0,1],axis:null},y:{type:"log",domain},color:scale,
    style:{fontFamily:"DejaVu Sans",color:"#000",background:"transparent",overflow:"visible"},
    marks:[
      Plot.rect(strip,{x1:0,x2:1,y1:"v",y2:"next",fill:"v",stroke:"v",strokeWidth:.5}),
      Plot.frame({stroke:"#000",strokeWidth:1.1}),
      Plot.axisY({anchor:"right",ticks:minor,tickFormat:()=>"",tickSize:4,label:null,strokeWidth:1}),
      Plot.axisY({anchor:"right",ticks:major,tickFormat:fmt,tickSize:7,tickPadding:4,fontSize:TICK,label:null,strokeWidth:1.1})
    ]});
  // raise the exponents of the power labels
  fig.querySelectorAll("text").forEach(t=>{
    const s=t.textContent; const m=s.match(/^(.*)\^(\d)$/);
    if(m){t.innerHTML=`${m[1]}<tspan dy="-0.42em" font-size="68%">${m[2]}</tspan>`;}
  });
  place(fig,f.x,f.y-M.t);
}
const bpRp = '<span class="m">(<i>BP</i>&thinsp;−&thinsp;<i>RP</i>)<sub><i>gaia</i></sub></span>';
const topColor={type:"log",scheme:"inferno",domain:[1,25]}, resColor={type:"log",scheme:"inferno",domain:[1,6]};
const F1={x:1193.5,y:36,w:555.5,h:350.5}, F2={x:1193.5,y:525.3,w:555.5,h:348.7}, F3={x:127.3,y:525.3,w:692.5,h:349};

text(titleText,349.5,95,33.5);
const bpRpF='(<i>BP</i>&thinsp;−&thinsp;<i>RP</i>)<sub><i>gaia</i></sub>';
text(`g_LSST - G_gaia = -0.099*${bpRpF}^2 +1.172*${bpRpF} -0.527&nbsp; [0.6 &lt; ${bpRpF} &lt;= 3.1]&nbsp; [rms: 0.036]`,596.5,240,16.7,0,"m");

panel(F1,{xd:xDomain,yd:topYDomain,xt:xTicks,yt:topYTicks,xf:".1f",yf:".1f",color:topColor},[
  Plot.dot(topCells,{x:"x",y:"y",fill:"n",symbol:topHex,r:3,clip:true})]);
panel(F2,{xd:xDomain,yd:resYDomain,xt:xTicks,yt:residTicks,xf:".1f",yf:".2f",color:resColor},[
  Plot.dot(residCells,{x:"x",y:"y",fill:"n",symbol:resHex,r:3,clip:true})]);
panel(F3,{xd:[-.1204,.1178],yd:[0,91.3],xt:residTicks,yt:histYTicks,xf:".2f",yf:"d"},[
  Plot.rectY(histBars,{x1:"x1",x2:"x2",y:"c",fill:"#1f77b4",shapeRendering:"crispEdges"})]);

colorbar({x:1783,y:36,w:18.5,h:350.5},[1,25],[1,10],[2,3,4,5,6,7,8,9,20],v=>v===1?"10^0":"10^1",topColor);
colorbar({x:1783,y:525.3,w:18.5,h:348.7},[1,6],[1,2,3,4,6],[5],v=>v===1?"10^0":v+"×10^0",resColor);

text(bpRp,1472,450,LABEL);
text("g_LSST - G_gaia",1103,210,LABEL,-90);
text("log10(N)",1890,214,LABEL,-90);
text(bpRp,1472,940,LABEL);
text("residuals [mag]",1057,701,LABEL,-90);
text("log10(N)",1949,710,LABEL,-90);
text("residuals [mag]",474,937,LABEL);
text("Number",51,705,LABEL,-90);
</script></body></html>
